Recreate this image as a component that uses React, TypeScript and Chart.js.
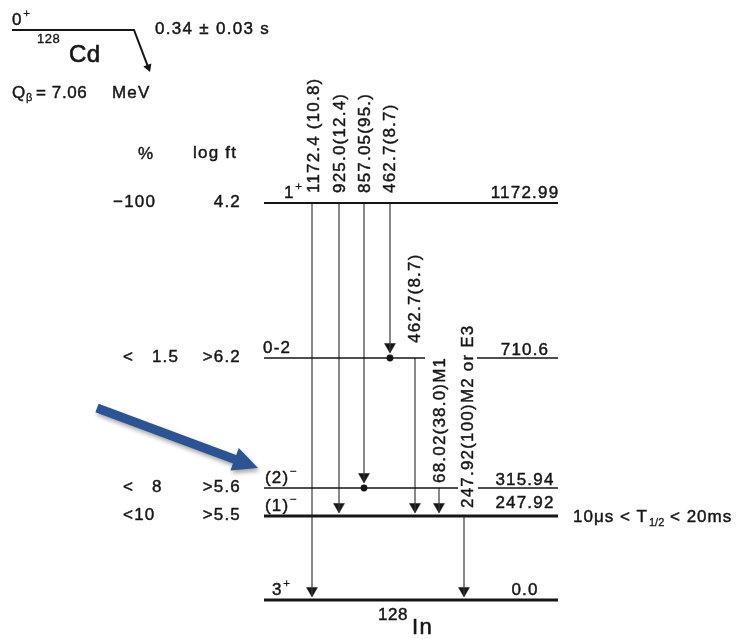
import React, { useEffect, useRef } from "react";
import { Chart, registerables } from "chart.js";

Chart.register(...registerables);

// ---------------- DATA ----------------
const levelEnergies = [1172.99, 710.6, 315.94, 247.92, 0.0];
const levelEnergyLabels = ["1172.99", "710.6", "315.94", "247.92", "0.0"];
const levelSpins = ["1^+", "0-2", "(2)^−", "(1)^−", "3^+"];
const betaFeeding = ["−100", "<   1.5", "<   8", "<10", ""];
const logFtValues = ["4.2", ">6.2", ">5.6", ">5.5", ""];

const gammaLabels = [
  "1172.4 (10.8)",
  "925.0(12.4)",
  "857.05(95.)",
  "462.7(8.7)",
  "462.7(8.7)",
  "68.02(38.0)M1",
  "247.92(100)M2 or E3",
];
const gammaFromLevel = [0, 0, 0, 0, 1, 2, 3];
const gammaToLevel = [4, 3, 2, 1, 3, 3, 4];
const gammaCoincidenceDot = [false, false, true, true, false, false, false];

const parentSpin = "0^+";
const parentNucleus = ["128", "Cd"];
const parentHalfLife = "0.34 ± 0.03 s";
const qValue = ["Q", "β", "= 7.06", "MeV"];
const columnHeaders = ["%", "log ft"];
const daughterNucleus = ["128", "In"];
const isomerHalfLife = ["10μs < T", "1/2", " < 20ms"];

// ---------------- LAYOUT (diagram units; schematic, not to energy scale) ----------------
const LAYOUT = {
  width: 749,
  height: 639,
  levelRow: [203, 358, 488, 516, 600],
  levelLeft: 264,
  levelRight: 558,
  levelWidth: [2, 1.5, 1.6, 3, 3],
  levelGaps: [[], [[425, 477]], [[458, 478]], [], []] as number[][][],
  gammaColumn: [312, 339, 364, 390, 415, 439, 464],
  gammaLabelShift: [2, 1, 1, 0, 0, 1, 4],
  gammaLabelLift: [10, 10, 10, 10, 15, 5, 8],
  spinX: [284, 263, 265, 265, 272],
  spinLift: 5,
  energyCenterX: 525,
  energyLift: [5, 3, 3, 8, 5],
  feedingX: [113, 123, 123, 123, 123],
  logFtRight: 241,
  rowDrop: 4,
  parentLine: [12, 134, 30],
  decayTip: [150, 72],
  blueTail: [97, 408],
  blueTip: [258, 468],
};

const INK = "#161616";
const GAMMA_INK = "#3b3b3b";
const ARROW_BLUE = "#2d5492";
const FONT = "'Liberation Sans', Arial, Helvetica, sans-serif";
const TEXT_STROKE = 0.45;

export default function App() {
  const ref = useRef<HTMLCanvasElement | null>(null);

  useEffect(() => {
    const canvas = ref.current;
    if (!canvas) return;
    const L = LAYOUT;
    const row = (lvl: number) => L.levelRow[lvl];
    const datasets: any[] = [];

    // Level lines
    levelEnergies.forEach((_, i) => {
      const y = row(i);
      const pts: any[] = [{ x: L.levelLeft, y }];
      for (const [a, b] of L.levelGaps[i]) {
        pts.push({ x: a, y });
        pts.push({ x: (a + b) / 2, y: null });
        pts.push({ x: b, y });
      }
      pts.push({ x: L.levelRight, y });
      datasets.push({
        label: levelEnergyLabels[i],
        data: pts,
        showLine: true,
        spanGaps: false,
        borderColor: INK,
        borderWidth: L.levelWidth[i],
        pointRadius: 0,
        pointHoverRadius: 0,
      });
    });

    // Gamma transitions
    const arrowR = 6.3;
    const tipGap = (i: number) => (gammaCoincidenceDot[i] ? 5 : 3);
    gammaLabels.forEach((g, i) => {
      const x = L.gammaColumn[i];
      datasets.push({
        label: g,
        data: [
          { x, y: row(gammaFromLevel[i]) },
          { x, y: row(gammaToLevel[i]) - tipGap(i) - 2 },
        ],
        showLine: true,
        borderColor: GAMMA_INK,
        borderWidth: 1.2,
        pointRadius: 0,
        pointHoverRadius: 0,
      });
    });
    datasets.push({
      label: "gamma arrowheads",
      data: gammaLabels.map((_, i) => ({
        x: L.gammaColumn[i],
        y: row(gammaToLevel[i]) - tipGap(i) - arrowR,
      })),
      showLine: false,
      pointStyle: "triangle",
      pointRotation: 180,
      pointRadius: arrowR,
      pointHoverRadius: arrowR,
      pointBackgroundColor: INK,
      pointBorderColor: INK,
      pointBorderWidth: 0.5,
    });
    datasets.push({
      label: "coincidence dots",
      data: gammaLabels
        .map((_, i) => ({ x: L.gammaColumn[i], y: row(gammaToLevel[i]) }))
        .filter((_, i) => gammaCoincidenceDot[i]),
      showLine: false,
      pointStyle: "circle",
      pointRadius: 3.4,
      pointHoverRadius: 3.4,
      pointBackgroundColor: INK,
      pointBorderColor: INK,
      pointBorderWidth: 0,
    });

    // Parent level and beta decay arrow
    const [pl0, pl1, py] = L.parentLine;
    const [tx, ty] = L.decayTip;
    const dx = tx - pl1, dy = ty - py;
    const dl = Math.hypot(dx, dy);
    const ux = dx / dl, uy = dy / dl;
    const decayR = 5;
    datasets.push({
      label: "parent",
      data: [
        { x: pl0, y: py },
        { x: pl1, y: py },
        { x: tx - ux * decayR * 1.2, y: ty - uy * decayR * 1.2 },
      ],
      showLine: true,
      borderColor: INK,
      borderWidth: 2,
      pointRadius: 0,
      pointHoverRadius: 0,
    });
    datasets.push({
      label: "decay arrowhead",
      data: [{ x: tx - ux * decayR, y: ty - uy * decayR }],
      showLine: false,
      pointStyle: "triangle",
      pointRotation: (Math.atan2(ux, -uy) * 180) / Math.PI,
      pointRadius: decayR,
      pointHoverRadius: decayR,
      pointBackgroundColor: INK,
      pointBorderColor: INK,
      pointBorderWidth: 0,
    });

    const textPlugin = {
      id: "levelText",
      afterDatasetsDraw(chart: any) {
        const ctx: CanvasRenderingContext2D = chart.ctx;
        const xs = chart.scales.x;
        const ys = chart.scales.y;
        const X = (v: number) => xs.getPixelForValue(v);
        const Y = (v: number) => ys.getPixelForValue(v);
        ctx.save();
        ctx.fillStyle = INK;
        ctx.strokeStyle = INK;
        ctx.lineJoin = "round";
        const put = (
          s: string,
          px: number,
          py: number,
          size: number,
          align: CanvasTextAlign = "left",
          spacing = 1.2,
          family = FONT
        ) => {
          ctx.font = `${size}px ${family}`;
          (ctx as any).letterSpacing = `${spacing}px`;
          ctx.textAlign = align;
          ctx.textBaseline = "alphabetic";
          ctx.fillText(s, px, py);
          ctx.lineWidth = TEXT_STROKE * (size / 17);
          ctx.strokeText(s, px, py);
          return ctx.measureText(s).width;
        };
        const scripted = (s: string, px: number, py: number, size: number) => {
          const [base, sup] = s.split("^");
          const w = put(base, px, py, size);
          if (sup) put(sup, px + w + 0.5, py - size * 0.5, size * 0.68, "left", 0);
        };

        // Parent
        scripted(parentSpin, X(12), Y(25), 17);
        put(parentNucleus[0], X(37), Y(43), 13, "left", 0.5);
        put(parentNucleus[1], X(69), Y(62), 24, "left", 0.5);
        put(parentHalfLife, X(155), Y(34), 17, "left", 1.3);
        put(qValue[0], X(12), Y(98), 17, "left", 0);
        put(qValue[1], X(26), Y(101), 11, "left", 0);
        put(qValue[2], X(36), Y(98), 17, "left", 0.6);
        put(qValue[3], X(112), Y(98), 17, "left", 1.2);

        // Column headers
        put(columnHeaders[0], X(138), Y(159), 17, "left", 0);
        put(columnHeaders[1], X(193), Y(158), 17, "left", 1.2);

        // Per-level text
        levelEnergies.forEach((_, i) => {
          const y = row(i);
          if (betaFeeding[i]) put(betaFeeding[i], X(L.feedingX[i]), Y(y + L.rowDrop), 17, "left", 1.2);
          if (logFtValues[i]) put(logFtValues[i], X(L.logFtRight), Y(y + L.rowDrop), 17, "right", 1.2);
          scripted(levelSpins[i], X(L.spinX[i]), Y(y - L.spinLift), 17);
          put(levelEnergyLabels[i], X(L.energyCenterX), Y(y - L.energyLift[i]), 17, "center", 1.2);
        });

        // Gamma labels (vertical)
        gammaLabels.forEach((g, i) => {
          const x = L.gammaColumn[i] + L.gammaLabelShift[i];
          const yb = row(gammaFromLevel[i]) - L.gammaLabelLift[i];
          ctx.save();
          ctx.translate(X(x), Y(yb));
          ctx.rotate(-Math.PI / 2);
          ctx.font = `17px ${FONT}`;
          (ctx as any).letterSpacing = "1.2px";
          ctx.textAlign = "left";
          ctx.textBaseline = "middle";
          ctx.fillText(g, 0, 0);
          ctx.lineWidth = TEXT_STROKE;
          ctx.strokeText(g, 0, 0);
          ctx.restore();
        });

        // Isomer half-life
        let hx = X(573);
        const hy = Y(522);
        hx += put(isomerHalfLife[0], hx, hy, 17, "left", 1.0);
        hx += put(isomerHalfLife[1], hx + 1, hy + 4, 11, "left", 0) + 1;
        put(isomerHalfLife[2], hx, hy, 17, "left", 1.0);

        // Daughter
        put(daughterNucleus[0], X(378), Y(620), 17, "left", 0.5);
        put(daughterNucleus[1], X(412), Y(634), 22, "left", 1.5);

        // Highlight arrow
        const [bx0, by0] = L.blueTail;
        const [bx1, by1] = L.blueTip;
        const ax0 = X(bx0), ay0 = Y(by0), ax1 = X(bx1), ay1 = Y(by1);
        const len = Math.hypot(ax1 - ax0, ay1 - ay0);
        const vx = (ax1 - ax0) / len, vy = (ay1 - ay0) / len;
        const nx = -vy, ny = vx;
        const sw = 4.6, hw = 12, hl = 25;
        const bxm = ax1 - vx * hl, bym = ay1 - vy * hl;
        ctx.shadowColor = "rgba(0,0,0,0.35)";
        ctx.shadowBlur = 4;
        ctx.shadowOffsetX = 1.5;
        ctx.shadowOffsetY = 3;
        ctx.fillStyle = ARROW_BLUE;
        ctx.beginPath();
        ctx.moveTo(ax0 + nx * sw, ay0 + ny * sw);
        ctx.lineTo(bxm + nx * sw, bym + ny * sw);
        ctx.lineTo(bxm + nx * hw, bym + ny * hw);
        ctx.lineTo(ax1, ay1);
        ctx.lineTo(bxm - nx * hw, bym - ny * hw);
        ctx.lineTo(bxm - nx * sw, bym - ny * sw);
        ctx.lineTo(ax0 - nx * sw, ay0 - ny * sw);
        ctx.closePath();
        ctx.fill();
        ctx.restore();
      },
    };

    const chart = new Chart(canvas, {
      type: "scatter",
      data: { datasets },
      options: {
        animation: false,
        responsive: false,
        devicePixelRatio: 1,
        events: [],
        layout: { padding: 0, autoPadding: false } as any,
        plugins: {
          legend: { display: false },
          tooltip: { enabled: false },
        },
        scales: {
          x: { type: "linear", min: 0, max: L.width, display: false },
          y: { type: "linear", min: 0, max: L.height, reverse: true, display: false },
        },
      },
      plugins: [textPlugin],
    });
    return () => chart.destroy();
  }, []);

  return (
    <div
      style={{
        position: "absolute",
        left: 0,
        top: 0,
        width: LAYOUT.width,
        height: LAYOUT.height,
        background: "#ffffff",
      }}
    >
      <canvas
        ref={ref}
        width={LAYOUT.width}
        height={LAYOUT.height}
        style={{ display: "block", width: LAYOUT.width, height: LAYOUT.height }}
      />
    </div>
  );
}
